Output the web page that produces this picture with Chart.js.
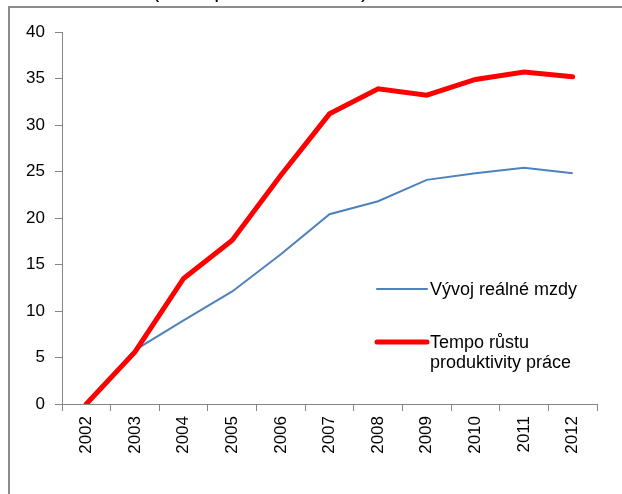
<!DOCTYPE html>
<html lang="cs">
<head>
  <meta charset="UTF-8">
  <title>Vývoj reálné mzdy a produktivity práce</title>
  <script src="https://cdn.jsdelivr.net/npm/chart.js"></script>
  <style>
    html, body { margin: 0; padding: 0; background: #fff; }
    #wrap { width: 622px; height: 494px; }
  </style>
</head>
<body>
  <div id="wrap"><canvas id="mzdyChart"></canvas></div>

  <script>
    // data
    const years = ['2002', '2003', '2004', '2005', '2006', '2007', '2008', '2009', '2010', '2011', '2012'];
    const realnaMzda = [0, 5.8, 9.0, 12.1, 16.1, 20.4, 21.8, 24.1, 24.8, 25.4, 24.8];
    const produktivita = [0, 5.6, 13.5, 17.6, 24.6, 31.2, 33.9, 33.2, 34.9, 35.7, 35.2];
    const yTicks = [0, 5, 10, 15, 20, 25, 30, 35, 40];
    const titleText = '(v % oproti roku 2002)';

    const font = 'Liberation Sans, Arial, sans-serif';

    // white page, the grey frame and the title cut off above it
    const framePlugin = {
      id: 'frame',
      beforeDraw(chart) {
        const ctx = chart.ctx;
        ctx.save();
        ctx.fillStyle = '#fff';
        ctx.fillRect(0, 0, chart.width, chart.height);
        ctx.font = '22px ' + font;
        ctx.fillStyle = '#000';
        ctx.textAlign = 'left';
        ctx.textBaseline = 'alphabetic';
        ctx.fillText(titleText, 152, -3);
        ctx.fillStyle = '#fff';
        ctx.fillRect(0, 6, chart.width, chart.height);
        ctx.strokeStyle = '#8c8c8c';
        ctx.lineWidth = 2;
        ctx.beginPath();
        ctx.moveTo(9, chart.height);
        ctx.lineTo(9, 7);
        ctx.lineTo(chart.width, 7);
        ctx.stroke();
        ctx.restore();
      }
    };

    // legend drawn inside the plot, like the original
    const legendPlugin = {
      id: 'insideLegend',
      afterDraw(chart) {
        const ctx = chart.ctx;
        const items = [
          { ds: chart.data.datasets[0], y: 289 },
          { ds: chart.data.datasets[1], y: 342 }
        ];
        ctx.save();
        ctx.font = '18px ' + font;
        ctx.textBaseline = 'middle';
        ctx.fillStyle = '#000';
        items.forEach(it => {
          ctx.strokeStyle = it.ds.borderColor;
          ctx.lineWidth = it.ds.borderWidth;
          ctx.lineCap = 'round';
          ctx.beginPath();
          ctx.moveTo(377, it.y);
          ctx.lineTo(427, it.y);
          ctx.stroke();
          const lines = Array.isArray(it.ds.label) ? it.ds.label : [it.ds.label];
          lines.forEach((t, i) => ctx.fillText(t, 430, it.y + 1 + i * 20));
        });
        ctx.restore();
      }
    };

    new Chart(document.getElementById('mzdyChart'), {
      type: 'line',
      data: {
        labels: years,
        datasets: [
          {
            label: 'Vývoj reálné mzdy',
            data: realnaMzda,
            borderColor: '#4f81bd',
            borderWidth: 2,
            pointRadius: 0,
            tension: 0,
            order: 1
          },
          {
            label: ['Tempo růstu', 'produktivity práce'],
            data: produktivita,
            borderColor: '#ff0000',
            borderWidth: 5,
            pointRadius: 0,
            tension: 0,
            borderCapStyle: 'round',
            order: 0
          }
        ]
      },
      options: {
        responsive: true,
        maintainAspectRatio: false,
        animation: false,
        layout: { padding: { left: 0, right: 25, top: 32, bottom: 0 } },
        plugins: {
          legend: { display: false },
          tooltip: { enabled: false }
        },
        scales: {
          x: {
            offset: true,
            grid: {
              offset: true,
              drawOnChartArea: false,
              drawTicks: true,
              tickLength: 7,
              color: '#868686'
            },
            border: { color: '#868686', width: 1 },
            ticks: {
              color: '#000',
              font: { family: font, size: 17 },
              minRotation: 90,
              maxRotation: 90,
              padding: 5,
              autoSkip: false
            },
            afterFit(scale) { scale.height = 90; }
          },
          y: {
            min: 0,
            max: 40,
            afterBuildTicks(scale) {
              scale.ticks = yTicks.map(v => ({ value: v }));
            },
            grid: {
              drawOnChartArea: false,
              drawTicks: true,
              tickLength: 7,
              color: '#868686'
            },
            border: { color: '#868686', width: 1 },
            ticks: {
              color: '#000',
              font: { family: font, size: 17 },
              padding: 10
            },
            afterFit(scale) { scale.width = 62; }
          }
        }
      },
      plugins: [framePlugin, legendPlugin]
    });
  </script>
</body>
</html>
